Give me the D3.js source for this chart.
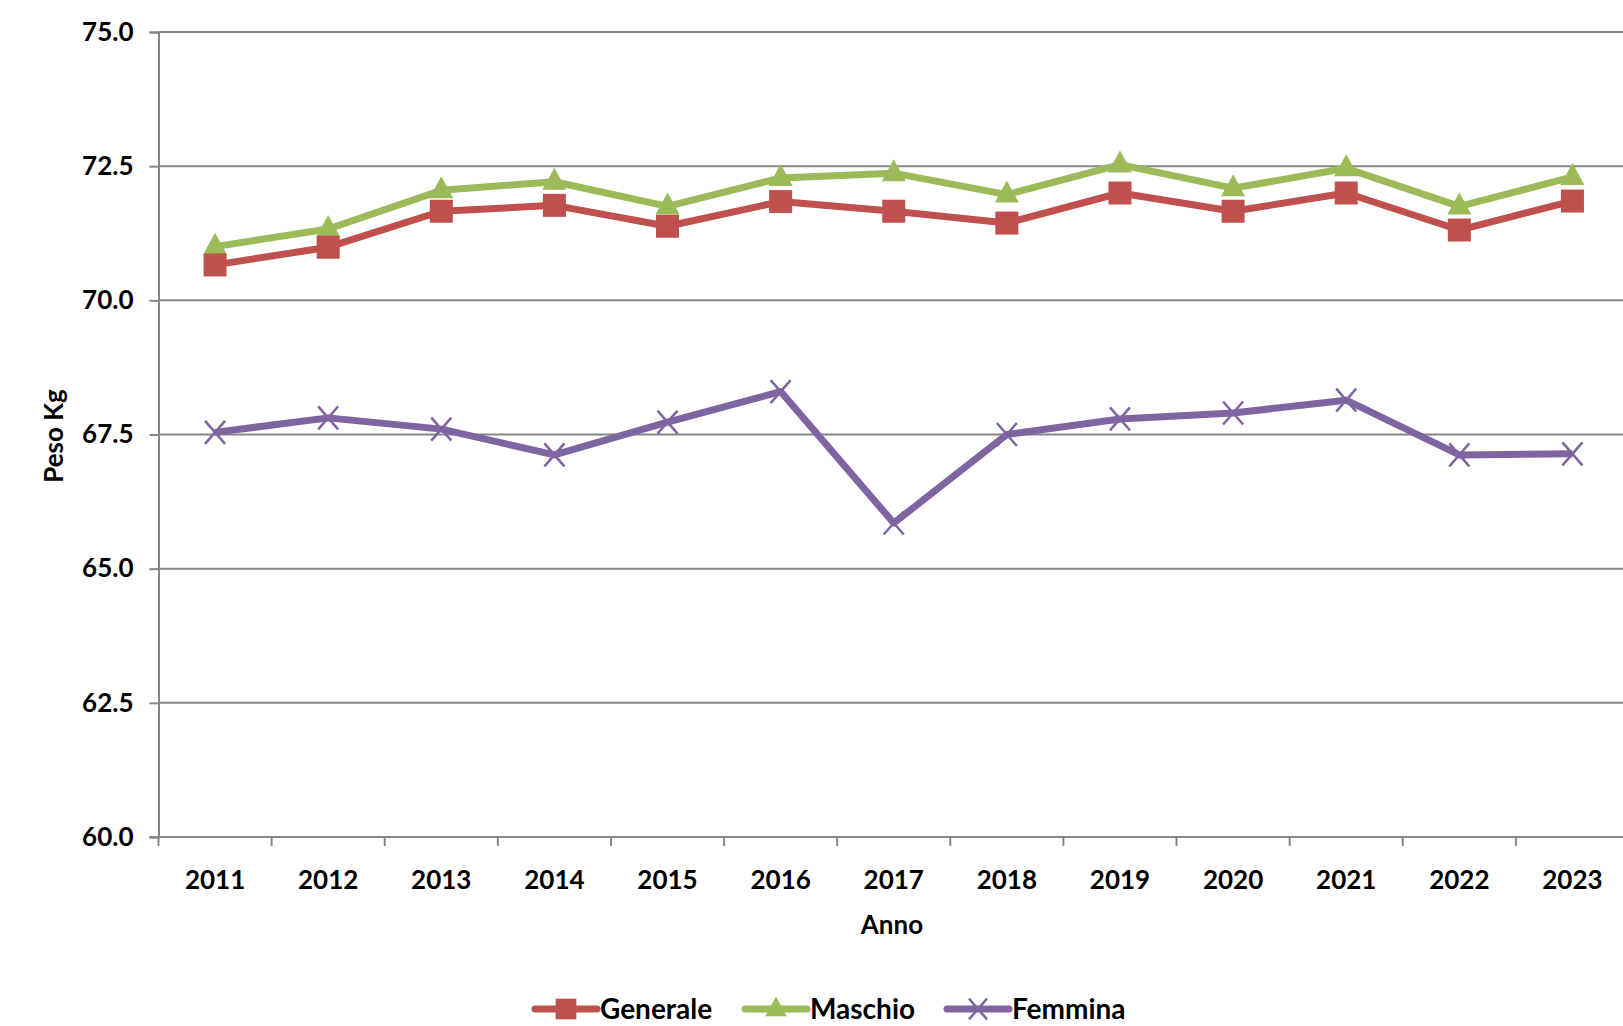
<!DOCTYPE html>
<html>
<head>
<meta charset="utf-8">
<script src="https://cdn.jsdelivr.net/npm/d3@7"></script>
<style>
  html, body { margin: 0; padding: 0; background: #fff; }
  svg { display: block; }
  text { font-family: Lato, "Open Sans", sans-serif; font-weight: bold; fill: #000; }
</style>
</head>
<body>
<svg id="chart" width="1623" height="1026"></svg>
<script>
// Peso medio (kg) per anno
const years = ["2011","2012","2013","2014","2015","2016","2017","2018","2019","2020","2021","2022","2023"];
const generale = [70.66, 70.99, 71.66, 71.77, 71.38, 71.84, 71.66, 71.44, 72.00, 71.66, 72.00, 71.31, 71.85];
const maschio  = [71.00, 71.33, 72.05, 72.21, 71.75, 72.28, 72.37, 71.97, 72.53, 72.09, 72.46, 71.75, 72.30];
const femmina  = [67.54, 67.81, 67.60, 67.12, 67.73, 68.30, 65.85, 67.50, 67.79, 67.90, 68.14, 67.12, 67.14];
const yTicks   = [60, 62.5, 65, 67.5, 70, 72.5, 75];

const series = [
  { name: "Generale", values: generale, color: "#C0504D", marker: "square" },
  { name: "Maschio",  values: maschio,  color: "#9BBB59", marker: "triangle" },
  { name: "Femmina",  values: femmina,  color: "#8064A2", marker: "cross" }
];

const svg = d3.select("#chart");
const plotLeft = 158.5, plotRight = 1629, plotTop = 32, plotBottom = 837;
const fontSize = "26px";

const x = d3.scaleBand().domain(years).range([plotLeft, plotRight]).paddingInner(0).paddingOuter(0);
const y = d3.scaleLinear().domain([60, 75]).range([plotBottom, plotTop]);

const gridColor = "#868686";

// horizontal gridlines
svg.append("g")
  .selectAll("line")
  .data(yTicks.filter(d => d !== 60))
  .join("line")
  .attr("x1", plotLeft).attr("x2", 1623)
  .attr("y1", d => y(d)).attr("y2", d => y(d))
  .attr("stroke", gridColor).attr("stroke-width", 2);

// y axis
const yAxis = d3.axisLeft(y).tickValues(yTicks).tickFormat(d3.format(".1f")).tickSize(9).tickPadding(16);
const gy = svg.append("g").attr("transform", `translate(${plotLeft},0)`).call(yAxis);
gy.select(".domain").attr("stroke", gridColor).attr("stroke-width", 2);
gy.selectAll(".tick line").attr("stroke", gridColor).attr("stroke-width", 2);
gy.selectAll(".tick text").style("font-size", fontSize).attr("fill", "#000");

// x axis with ticks on category boundaries
const gx = svg.append("g").attr("transform", `translate(0,${plotBottom})`);
gx.append("line").attr("x1", plotLeft - 9).attr("x2", 1623).attr("y1", 0).attr("y2", 0)
  .attr("stroke", gridColor).attr("stroke-width", 2);
gx.selectAll("line.tk")
  .data(years)
  .join("line").attr("class", "tk")
  .attr("x1", d => x(d)).attr("x2", d => x(d))
  .attr("y1", 0).attr("y2", 9)
  .attr("stroke", gridColor).attr("stroke-width", 2);
gx.selectAll("text")
  .data(years)
  .join("text")
  .attr("x", d => x(d) + x.bandwidth() / 2)
  .attr("y", 52)
  .attr("text-anchor", "middle")
  .style("font-size", fontSize)
  .text(d => d);

// axis titles
svg.append("text")
  .attr("x", 892).attr("y", 934)
  .attr("text-anchor", "middle")
  .style("font-size", fontSize)
  .text("Anno");
svg.append("text")
  .attr("transform", "translate(63,436) rotate(-90)")
  .attr("text-anchor", "middle")
  .style("font-size", fontSize)
  .text("Peso Kg");

// marker drawing
function drawMarker(g, type, color, cx, cy, k = 1) {
  if (type === "square") {
    const h = 11.5 * k;
    g.append("rect").attr("x", cx - h).attr("y", cy - h)
      .attr("width", 2 * h).attr("height", 2 * h).attr("fill", color);
  } else if (type === "triangle") {
    g.append("path")
      .attr("d", `M${cx},${cy - 14 * k}L${cx + 12 * k},${cy + 8 * k}L${cx - 12 * k},${cy + 8 * k}Z`)
      .attr("fill", color);
  } else {
    const w = 10 * k, h = 11.5 * k;
    g.append("path")
      .attr("d", `M${cx - w},${cy - h}L${cx + w},${cy + h}M${cx - w},${cy + h}L${cx + w},${cy - h}`)
      .attr("stroke", color).attr("stroke-width", 2.5).attr("fill", "none");
  }
}

const line = d3.line()
  .x((d, i) => x(years[i]) + x.bandwidth() / 2)
  .y(d => y(d));

// series lines and markers (Femmina first, Generale on top)
[series[2], series[1], series[0]].forEach(s => {
  const g = svg.append("g");
  g.append("path")
    .attr("d", line(s.values))
    .attr("fill", "none")
    .attr("stroke", s.color)
    .attr("stroke-width", 7)
    .attr("stroke-linejoin", "round");
  s.values.forEach((v, i) => {
    drawMarker(g, s.marker, s.color, x(years[i]) + x.bandwidth() / 2, y(v));
  });
});

// legend
const legendItems = [
  { s: series[0], x0: 535 },
  { s: series[1], x0: 745 },
  { s: series[2], x0: 947 }
];
const ly = 1009;
legendItems.forEach(({ s, x0 }) => {
  const g = svg.append("g");
  g.append("line").attr("x1", x0).attr("x2", x0 + 62).attr("y1", ly).attr("y2", ly)
    .attr("stroke", s.color).attr("stroke-width", 7).attr("stroke-linecap", "round");
  drawMarker(g, s.marker, s.color, x0 + 31, ly, 0.9);
  g.append("text").attr("x", x0 + 65).attr("y", ly + 10)
    .style("font-size", "28px").text(s.name);
});
</script>
</body>
</html>
